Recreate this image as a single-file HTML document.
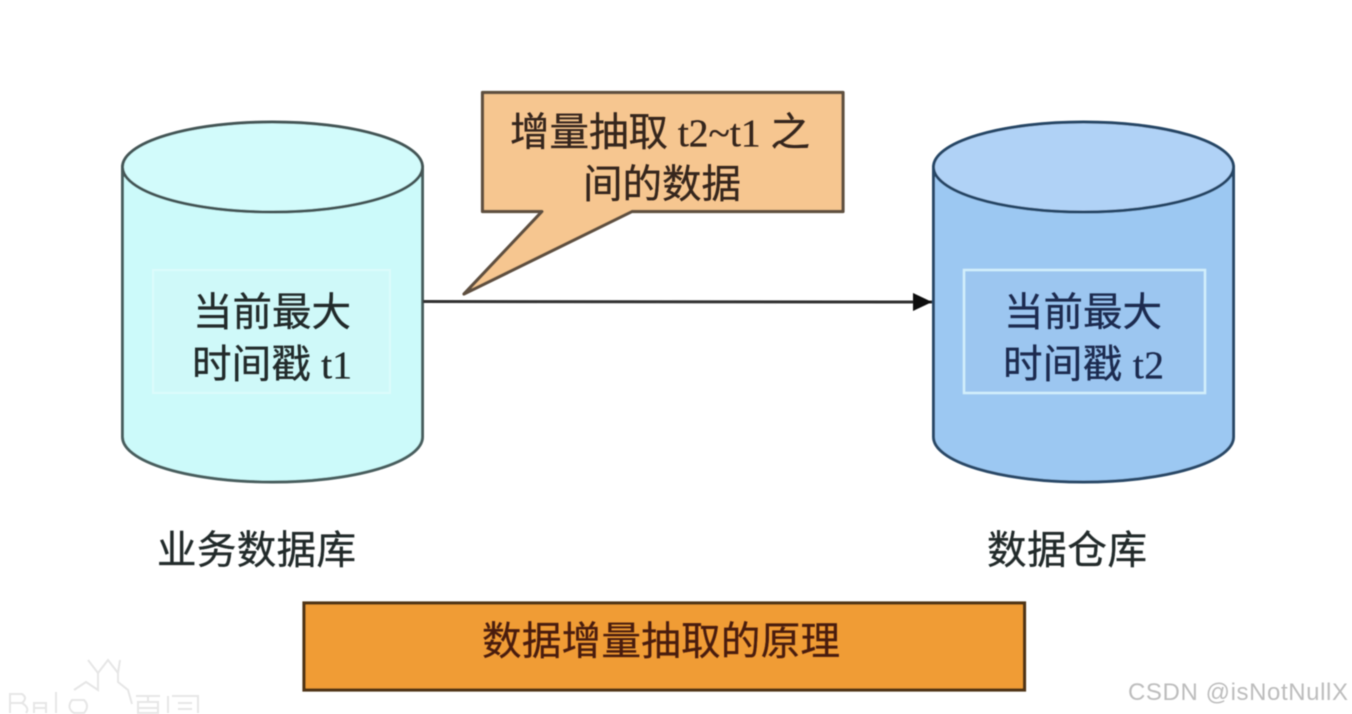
<!DOCTYPE html>
<html><head><meta charset="utf-8"><style>
html,body{margin:0;padding:0;background:#fff;width:1352px;height:714px;overflow:hidden}
svg{display:block}
text{font-family:"Liberation Serif","WenQuanYi Zen Hei","Noto Sans CJK SC",sans-serif;font-size:39.500px;fill:#222a2a;stroke:#222a2a;stroke-width:.35px}
.b{filter:url(#s)}
</style></head><body>
<svg width="1352" height="714" viewBox="0 0 1352 714" xmlns="http://www.w3.org/2000/svg">
<defs>
<filter id="s" x="-5%" y="-5%" width="110%" height="110%"><feGaussianBlur stdDeviation="0.6"/></filter>
<filter id="t" x="-5%" y="-20%" width="110%" height="140%"><feGaussianBlur stdDeviation="0.5"/></filter>
<marker id="m" markerUnits="userSpaceOnUse" markerWidth="20" markerHeight="20" refX="19" refY="9" orient="auto"><path d="M0 0L19 9L0 18Z" fill="#111"/></marker>
</defs>
<g class="b">
<path d="M122.500 167V437A150 45 0 0 0 422.500 437V167Z" fill="#ccfafa" stroke="#4a5e5e" stroke-width="3"/>
<ellipse cx="272.500" cy="167" rx="150" ry="45" fill="#d2fbfb" stroke="#445656" stroke-width="3"/>
<rect x="153" y="270" width="237" height="123" fill="#cff9f9" stroke="#dcfbfb" stroke-width="2"/>
<path d="M933.500 167V437A150 45 0 0 0 1233.500 437V167Z" fill="#9cc8f2" stroke="#2b4a68" stroke-width="3"/>
<ellipse cx="1083.500" cy="167" rx="150" ry="45" fill="#b0d2f6" stroke="#264766" stroke-width="3"/>
<rect x="964" y="270" width="241" height="123" fill="#9cc6f0" stroke="#d2effb" stroke-width="2.500"/>
<line x1="423" y1="301.500" x2="932" y2="302" stroke="#333" stroke-width="3" marker-end="url(#m)"/>
<path d="M482.500 92.500H843V211.500H632L464 294L542 211.500H482.500Z" fill="#f6c690" stroke="#5e5040" stroke-width="3.200" stroke-linejoin="round"/>
<rect x="304" y="603" width="720.500" height="87" fill="#f09c34" stroke="#4f3418" stroke-width="3.200"/>
</g>
<g filter="url(#t)">
<text x="193" y="326" textLength="158" lengthAdjust="spacing">当前最大</text>
<text x="192" y="378" textLength="160" lengthAdjust="spacing">时间戳 t1</text>
<text x="1004" y="326" textLength="158" lengthAdjust="spacing" style="fill:#1c2c50;stroke:#1c2c50">当前最大</text>
<text x="1003" y="378" textLength="161" lengthAdjust="spacing" style="fill:#1c2c50;stroke:#1c2c50">时间戳 t2</text>
<text x="510" y="146" textLength="300" lengthAdjust="spacing" style="fill:#35251c;stroke:#35251c">增量抽取 t2~t1 之</text>
<text x="583" y="198" textLength="158" lengthAdjust="spacing" style="fill:#35251c;stroke:#35251c">间的数据</text>
<text x="157" y="564" textLength="199" lengthAdjust="spacing">业务数据库</text>
<text x="987" y="564" textLength="160" lengthAdjust="spacing">数据仓库</text>
<text x="482" y="655" textLength="358" lengthAdjust="spacing" style="fill:#4a1d10;stroke:#4a1d10">数据增量抽取的原理</text>
</g>
<g class="b" fill="none" stroke="#e6e6e6" stroke-width="2">
<path d="M74 690L86 682L98 690L98 673L108 660L118 673L118 682L128 690L132 704"/>
<path d="M98 673L88 660M118 673L120 660"/>
<path d="M10 713V694H22Q28 698 22 703H10M22 703Q30 708 26 713"/>
<path d="M34 713V703H46V713M34 708H46"/>
<path d="M56 692V713M72 700Q66 708 74 713H84Q90 706 84 700Z"/>
<path d="M136 696H160M148 696V702M138 702H158V713H138ZM138 708H158"/>
<path d="M168 696V713M172 696H198V713M178 703H192M178 709H192"/>
</g>
<text x="1128" y="700" textLength="220" lengthAdjust="spacing" filter="url(#t)" style="font-family:'Liberation Sans',sans-serif;font-size:24px;fill:#bdbdbd;stroke:none">CSDN @isNotNullX</text>
</svg>
</body></html>
